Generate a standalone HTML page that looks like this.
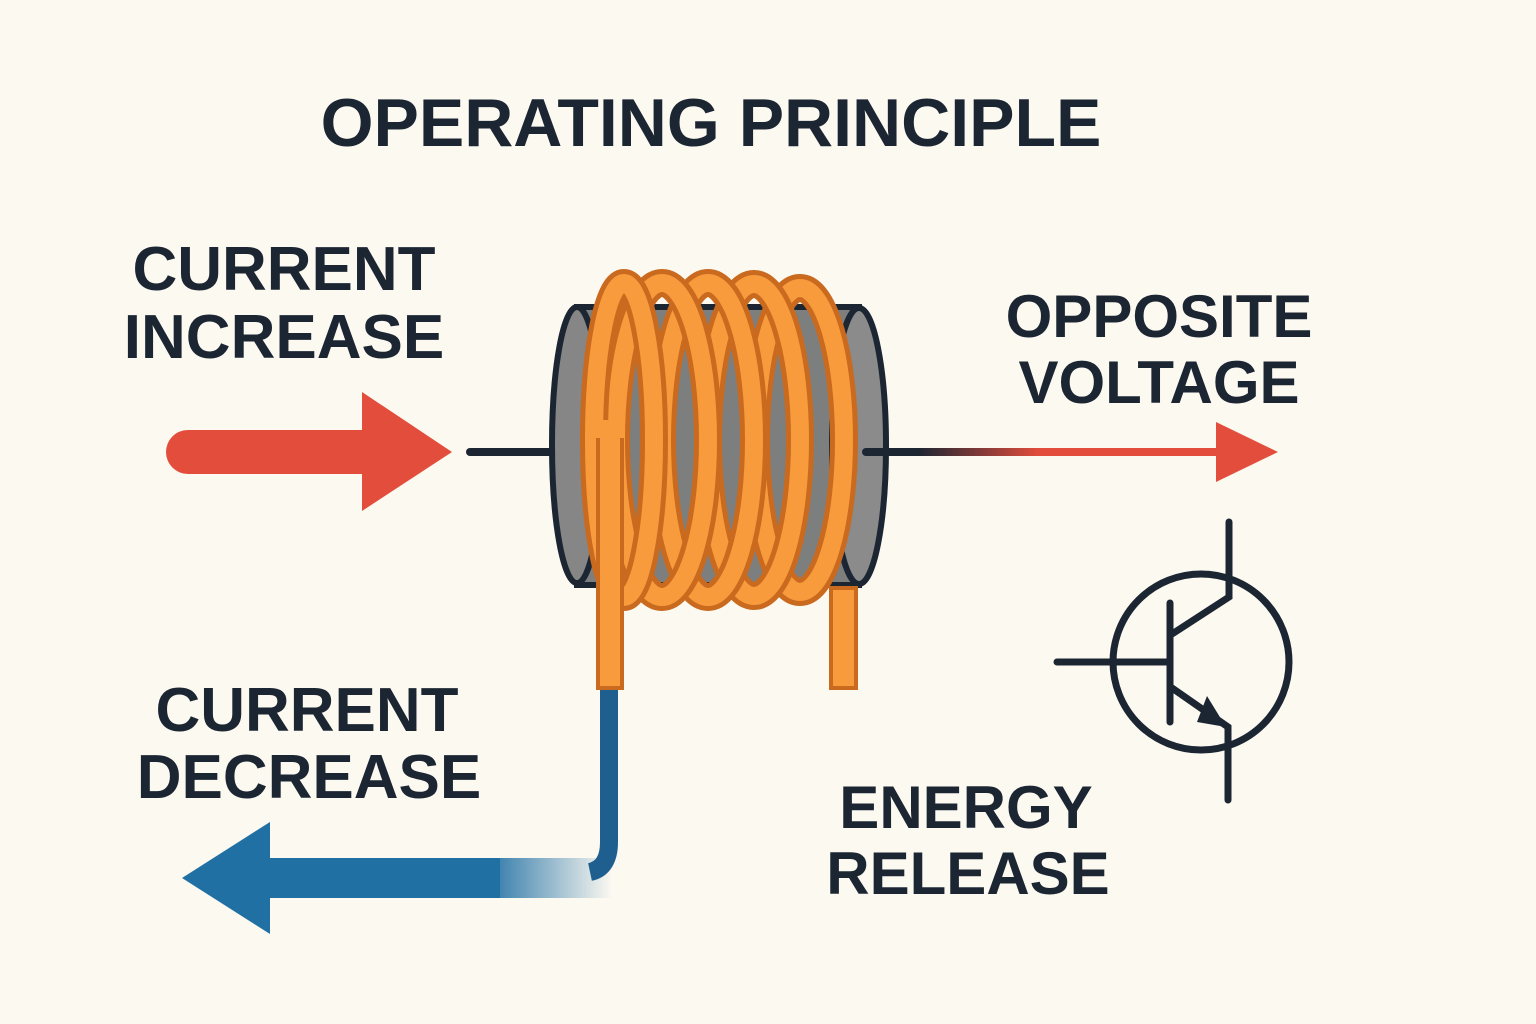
<!DOCTYPE html>
<html><head><style>
body{margin:0;background:#fcf9f1;}
svg{display:block}
text{font-family:"Liberation Sans",sans-serif;font-weight:bold;fill:#1c2633}
</style></head><body>
<svg width="1536" height="1024" viewBox="0 0 1536 1024">
<defs>
<linearGradient id="rg" x1="866" x2="1040" gradientUnits="userSpaceOnUse"><stop offset="0.3" stop-color="#1c2633"/><stop offset="1" stop-color="#e34d3b"/></linearGradient>
<linearGradient id="bg" x1="480" x2="612" gradientUnits="userSpaceOnUse"><stop offset="0" stop-color="#2170a4"/><stop offset="1" stop-color="#2170a4" stop-opacity="0"/></linearGradient>
</defs>
<rect width="1536" height="1024" fill="#fcf9f1"/>
<text x="711" y="146" font-size="68" text-anchor="middle">OPERATING PRINCIPLE</text>
<text x="284" y="290" font-size="62" text-anchor="middle">CURRENT</text>
<text x="284" y="358" font-size="62" text-anchor="middle">INCREASE</text>
<text x="1159" y="337" font-size="60" text-anchor="middle">OPPOSITE</text>
<text x="1159" y="403" font-size="60" text-anchor="middle">VOLTAGE</text>
<text x="307" y="731" font-size="62" text-anchor="middle">CURRENT</text>
<text x="309" y="798" font-size="62" text-anchor="middle">DECREASE</text>
<text x="966" y="828" font-size="60" text-anchor="middle">ENERGY</text>
<text x="968" y="894" font-size="60" text-anchor="middle">RELEASE</text>
<path d="M188 430 H362 V392 L452 452 L362 511 V474 H188 A22 22 0 0 1 188 430Z" fill="#e34d3b"/>
<line x1="470" y1="452" x2="556" y2="452" stroke="#1c2633" stroke-width="8" stroke-linecap="round"/>
<line x1="866" y1="452" x2="1220" y2="452" stroke="url(#rg)" stroke-width="8" stroke-linecap="round"/>
<path d="M1216 422 L1278 452 L1216 482Z" fill="#e34d3b"/>
<!-- blue -->
<rect x="260" y="858" width="352" height="40" fill="url(#bg)"/>
<rect x="260" y="858" width="240" height="40" fill="#2170a4"/>
<path d="M270 822 L182 878 L270 934Z" fill="#2170a4"/>
<path d="M609 688 V842 Q609 868 590 872" fill="none" stroke="#1f5f90" stroke-width="18"/>
<!-- cylinder -->
<path d="M577 307 H859 V585 H577 Z" fill="#7d7e7e" stroke="#1c2633" stroke-width="6"/>
<ellipse cx="577" cy="445" rx="25" ry="138" fill="#858685" stroke="#1c2633" stroke-width="6"/>
<ellipse cx="859" cy="446" rx="27" ry="138" fill="#8a8b8a" stroke="#1c2633" stroke-width="6"/>
<line x1="866" y1="452" x2="888" y2="452" stroke="#1c2633" stroke-width="8" stroke-linecap="round"/>
<g fill="none">
<ellipse cx="800" cy="440" rx="44" ry="152" stroke="#c96a1f" stroke-width="28"/>
<ellipse cx="800" cy="440" rx="44" ry="152" stroke="#f89b3c" stroke-width="18"/>
<ellipse cx="754" cy="440" rx="46" ry="156" stroke="#c96a1f" stroke-width="28"/>
<ellipse cx="754" cy="440" rx="46" ry="156" stroke="#f89b3c" stroke-width="18"/>
<ellipse cx="708" cy="440" rx="46" ry="157" stroke="#c96a1f" stroke-width="28"/>
<ellipse cx="708" cy="440" rx="46" ry="157" stroke="#f89b3c" stroke-width="18"/>
<ellipse cx="662" cy="440" rx="46" ry="157" stroke="#c96a1f" stroke-width="28"/>
<ellipse cx="662" cy="440" rx="46" ry="157" stroke="#f89b3c" stroke-width="18"/>
<ellipse cx="624" cy="440" rx="30" ry="157" stroke="#c96a1f" stroke-width="28"/>
<ellipse cx="624" cy="440" rx="30" ry="157" stroke="#f89b3c" stroke-width="18"/>
</g>
<rect x="598" y="440" width="24" height="248" fill="#f89b3c" stroke="#c96a1f" stroke-width="4"/>
<rect x="600" y="420" width="20" height="60" fill="#f89b3c"/>
<rect x="831" y="588" width="25" height="100" fill="#f89b3c" stroke="#c96a1f" stroke-width="4"/>
<g stroke="#1c2633" stroke-width="7" fill="none" stroke-linecap="round">
<circle cx="1201" cy="662" r="88"/>
<path d="M1229 522 V597 L1172 634"/>
<line x1="1170" y1="603" x2="1170" y2="722"/>
<line x1="1057" y1="662" x2="1170" y2="662"/>
<path d="M1172 688 L1228 727 V800"/>
</g>
<path d="M1197 722 L1226 727 L1207 696Z" fill="#1c2633"/>
</svg>
</body></html>
